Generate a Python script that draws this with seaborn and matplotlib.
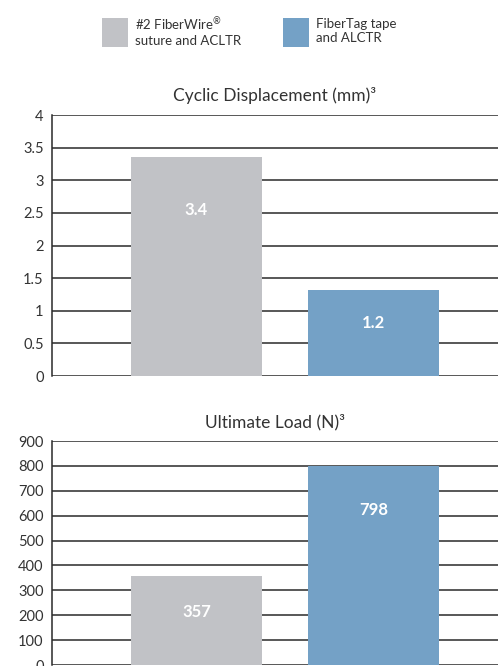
import matplotlib

matplotlib.use("Agg")
import matplotlib.pyplot as plt
import seaborn as sns
from matplotlib.patches import Patch

# data
groups = ["#2 FiberWire$^{\\mathregular{®}}$\nsuture and ACLTR", "FiberTag tape\nand ALCTR"]
colors = ["#c1c2c6", "#74a1c6"]

cyclic_heights = [3.35, 1.32]
cyclic_labels = ["3.4", "1.2"]
cyclic_ticks = [0, 0.5, 1, 1.5, 2, 2.5, 3, 3.5, 4]

load_heights = [357, 798]
load_labels = ["357", "798"]
load_ticks = [0, 100, 200, 300, 400, 500, 600, 700, 800, 900]

sns.set_theme(style="white")
plt.rcParams["font.family"] = ["Lato", "DejaVu Sans"]
plt.rcParams["mathtext.fontset"] = "custom"
plt.rcParams["mathtext.rm"] = "Lato"
text_color = "#333333"


def bar_panel(ax, heights, labels, ticks, title, label_y):
    sns.barplot(x=[0, 1], y=heights, hue=[0, 1], palette=colors, width=0.74,
                saturation=1, legend=False, ax=ax, zorder=3, linewidth=0)
    ax.set_xlim(-0.816, 1.703)
    ax.set_ylim(ticks[0], ticks[-1])
    ax.set_yticks(ticks)
    ax.set_yticklabels([f"{t:g}" for t in ticks], fontsize=10.5, color=text_color)
    ax.set_xticks([])
    ax.set_xlabel("")
    ax.set_ylabel("")
    ax.yaxis.grid(True, color="#2a2a2a", linewidth=1.1, zorder=0)
    ax.set_axisbelow(True)
    for side in ["top", "right", "bottom"]:
        ax.spines[side].set_visible(False)
    ax.spines["left"].set_color("#2a2a2a")
    ax.spines["left"].set_linewidth(1.1)
    ax.tick_params(axis="y", length=0, pad=6)
    ax.set_title(title, fontsize=12.5, color=text_color, pad=10)
    for i, (lab, y) in enumerate(zip(labels, label_y)):
        ax.text(i, y, lab, ha="center", va="center",
                color="white", fontsize=12, fontweight="bold", zorder=4)


fig = plt.figure(figsize=(4.98, 6.66), dpi=100)
ax1 = fig.add_axes([0.1044, 0.4354, 0.8956, 0.3919])
ax2 = fig.add_axes([0.1044, 0.0015, 0.8956, 0.3363])

bar_panel(ax1, cyclic_heights, cyclic_labels, cyclic_ticks,
          "Cyclic Displacement (mm)³", [2.54, 0.81])
bar_panel(ax2, load_heights, load_labels, load_ticks,
          "Ultimate Load (N)³", [213, 622])

handles = [Patch(facecolor=c, edgecolor="none") for c in colors]
fig.legend(handles, groups, loc="upper center", bbox_to_anchor=(0.5, 0.995),
           ncol=2, frameon=False, fontsize=9.5, labelcolor=text_color,
           handlelength=2.0, handleheight=3.0, handletextpad=0.5,
           columnspacing=3.2)

fig.savefig("out.png", dpi=100)
